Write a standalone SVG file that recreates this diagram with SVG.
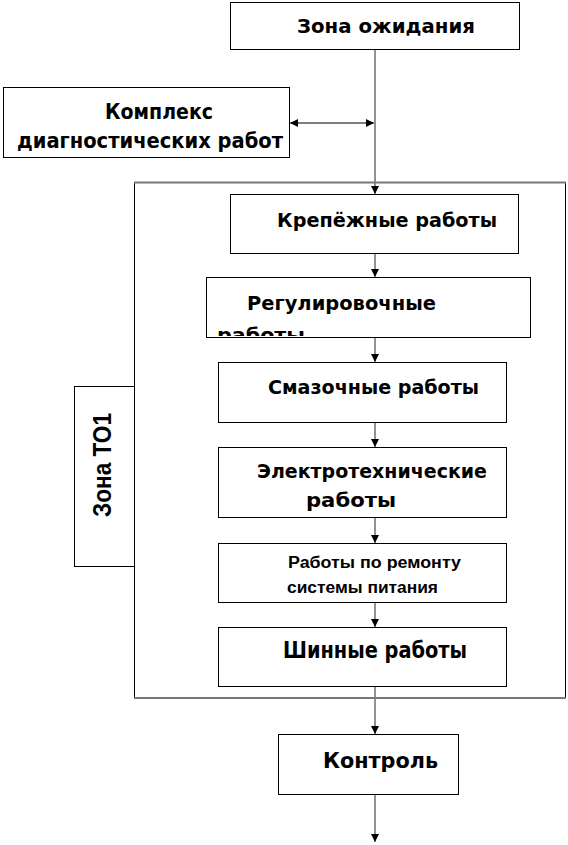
<svg xmlns="http://www.w3.org/2000/svg" width="568" height="845" viewBox="0 0 568 845">
<style>
.box{fill:#fff;stroke:#000;stroke-width:1}
.t{font-family:"DejaVu Sans","Liberation Sans",Arial,sans-serif;font-weight:bold;fill:#000}
.a{font-family:"Liberation Sans",Arial,sans-serif;font-weight:bold;fill:#000}
.c{stroke:#777;stroke-width:1.6;fill:none}
</style>
<defs>
<marker id="ah" viewBox="0 0 8 8" refX="8" refY="4" markerWidth="8" markerHeight="8" markerUnits="userSpaceOnUse" orient="auto-start-reverse">
<path d="M0,0 L8,4 L0,8 Z" fill="#000"/>
</marker>
<clipPath id="clipReg"><rect x="206" y="277" width="324" height="59"/></clipPath>
</defs>
<rect width="568" height="845" fill="#fff"/>
<g id="frame">
<line x1="134.5" y1="182" x2="134.5" y2="698" stroke="#000" stroke-width="1"/>
<line x1="565.5" y1="182" x2="565.5" y2="698" stroke="#000" stroke-width="1"/>
<line x1="134" y1="182.5" x2="566" y2="182.5" stroke="#777" stroke-width="2"/>
<line x1="134" y1="698" x2="566" y2="698" stroke="#777" stroke-width="2"/>
</g>
<g id="connectors">
<line class="c" x1="375" y1="50" x2="375" y2="194" marker-end="url(#ah)"/>
<line x1="290" y1="123" x2="374" y2="123" stroke="#000" stroke-width="1" marker-start="url(#ah)" marker-end="url(#ah)"/>
<line class="c" x1="375" y1="254" x2="375" y2="277" marker-end="url(#ah)"/>
<line class="c" x1="375" y1="338" x2="375" y2="362" marker-end="url(#ah)"/>
<line class="c" x1="375" y1="422" x2="375" y2="447" marker-end="url(#ah)"/>
<line class="c" x1="375" y1="517" x2="375" y2="543" marker-end="url(#ah)"/>
<line class="c" x1="375" y1="602" x2="375" y2="627" marker-end="url(#ah)"/>
<line class="c" x1="375" y1="686" x2="375" y2="734" marker-end="url(#ah)"/>
<line class="c" x1="375" y1="794" x2="375" y2="842" marker-end="url(#ah)"/>
</g>
<g id="zona-ozhidaniya">
<rect class="box" x="230.5" y="2.5" width="289" height="47"/>
<text class="t" x="297" y="33" font-size="20" textLength="178" lengthAdjust="spacingAndGlyphs">Зона ожидания</text>
</g>
<g id="kompleks">
<rect class="box" x="3.5" y="87.5" width="286" height="70"/>
<text class="t" x="105" y="119" font-size="21" textLength="108" lengthAdjust="spacingAndGlyphs">Комплекс</text>
<text class="t" x="17" y="148" font-size="21" textLength="266" lengthAdjust="spacingAndGlyphs">диагностических работ</text>
</g>
<g id="zona-to1">
<rect class="box" x="74.5" y="386.5" width="60" height="180"/>
<text class="a" transform="translate(111,517) rotate(-90)" font-size="25" textLength="104" lengthAdjust="spacingAndGlyphs">Зона ТО1</text>
</g>
<g id="krepezhnye">
<rect class="box" x="230.5" y="194.5" width="288" height="59"/>
<text class="t" x="277" y="227" font-size="20" textLength="220" lengthAdjust="spacingAndGlyphs">Крепёжные работы</text>
</g>
<g id="regulirovochnye">
<rect class="box" x="206.5" y="277.5" width="324" height="60"/>
<g clip-path="url(#clipReg)">
<text class="t" x="247" y="310" font-size="20" textLength="189" lengthAdjust="spacingAndGlyphs">Регулировочные</text>
<text class="t" x="217" y="342" font-size="20" textLength="88" lengthAdjust="spacingAndGlyphs">работы</text>
</g>
</g>
<g id="smazochnye">
<rect class="box" x="218.5" y="362.5" width="288" height="60"/>
<text class="t" x="268" y="394" font-size="20" textLength="211" lengthAdjust="spacingAndGlyphs">Смазочные работы</text>
</g>
<g id="elektrotekhnicheskie">
<rect class="box" x="218.5" y="447.5" width="288" height="70"/>
<text class="t" x="257" y="478" font-size="20" textLength="230" lengthAdjust="spacingAndGlyphs">Электротехнические</text>
<text class="t" x="306" y="507" font-size="20" textLength="90" lengthAdjust="spacingAndGlyphs">работы</text>
</g>
<g id="remont-pitaniya">
<rect class="box" x="218.5" y="543.5" width="288" height="59"/>
<text class="a" x="288" y="568" font-size="16" textLength="173" lengthAdjust="spacingAndGlyphs">Работы по ремонту</text>
<text class="a" x="287" y="593" font-size="16" textLength="151" lengthAdjust="spacingAndGlyphs">системы питания</text>
</g>
<g id="shinnye">
<rect class="box" x="218.5" y="627.5" width="288" height="59"/>
<text class="t" x="283" y="658" font-size="23" textLength="184" lengthAdjust="spacingAndGlyphs">Шинные работы</text>
</g>
<g id="kontrol">
<rect class="box" x="278.5" y="734.5" width="180" height="60"/>
<text class="t" x="323" y="768" font-size="22" textLength="115" lengthAdjust="spacingAndGlyphs">Контроль</text>
</g>
</svg>
